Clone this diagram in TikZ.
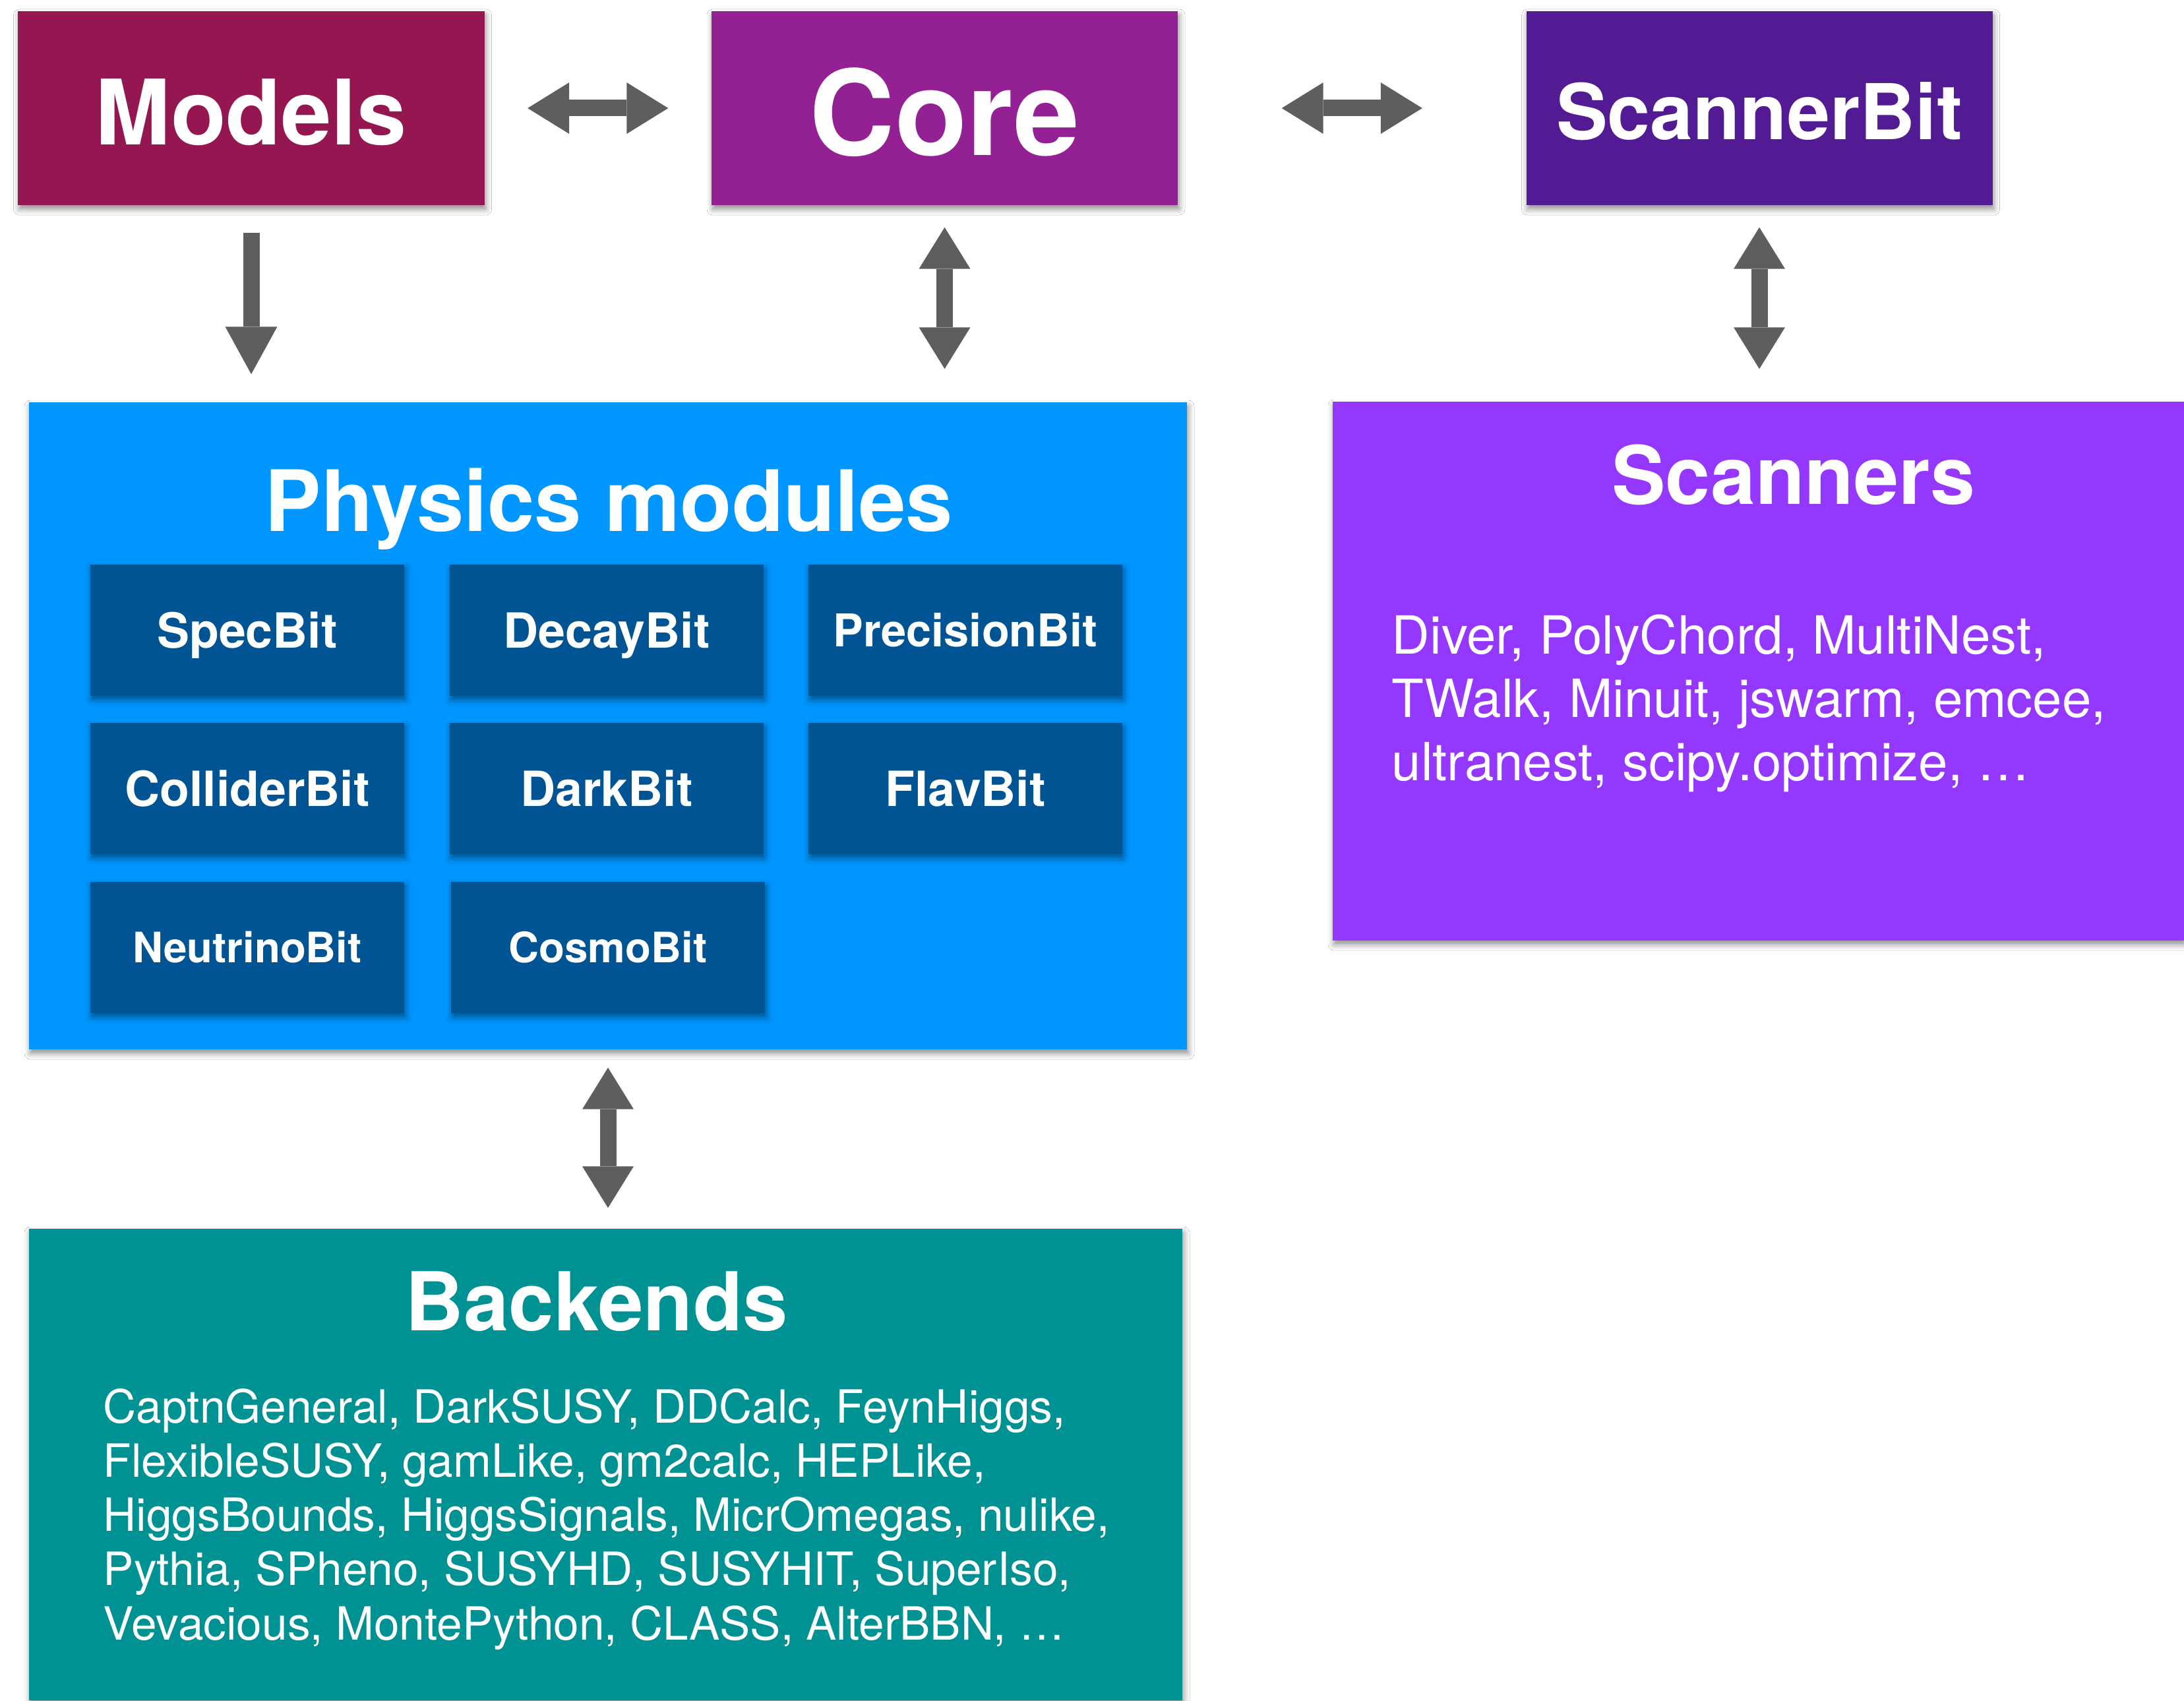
\documentclass[tikz,border=0pt]{standalone}
\usepackage{fontspec}
\setmainfont{TeX Gyre Heros}
\usetikzlibrary{arrows.meta,shadows.blur}
\definecolor{cMaroon}{HTML}{941751}
\definecolor{cPlum}{HTML}{942193}
\definecolor{cEggplant}{HTML}{531B93}
\definecolor{cAqua}{HTML}{0096FF}
\definecolor{cOcean}{HTML}{005493}
\definecolor{cGrape}{HTML}{9437FF}
\definecolor{cTeal}{HTML}{009193}
\definecolor{cIron}{HTML}{5E5E5E}
\tikzset{
  boxshadow/.style={blur shadow={shadow xshift=0.02cm, shadow yshift=-0.06cm, shadow blur radius=0.09cm, shadow opacity=45}},
  topbox/.style={rectangle, inner sep=0pt, minimum width=7.07cm, minimum height=2.94cm, text=white, text depth=0pt, boxshadow},
  bigbox/.style={rectangle, inner sep=0pt, boxshadow},
  modbox/.style={rectangle, fill=cOcean, inner sep=0pt, minimum width=4.76cm, minimum height=1.99cm, text=white, text depth=0pt, text height=0.53cm, font=\fontsize{20.9}{25}\selectfont\bfseries, boxshadow},
  smallmod/.style={text height=0.46cm, font=\fontsize{18.1}{22}\selectfont\bfseries},
  titletext/.style={text=white, inner sep=0pt, anchor=base, font=\bfseries},
  bodytext/.style={text=white, inner sep=0pt, anchor=base west, align=left},
  twoway/.style={draw=cIron, line width=0.25cm, {Triangle[length=0.63cm,width=0.78cm,line width=0pt]}-{Triangle[length=0.63cm,width=0.78cm,line width=0pt]}},
  oneway/.style={draw=cIron, line width=0.25cm, -{Triangle[length=0.72cm,width=0.79cm,line width=0pt]}}
}
\begin{document}
\begin{tikzpicture}[x=1cm, y=-1cm]
\useasboundingbox[fill=white] (0,0) rectangle (33.12,25.78);
% top row
\node[topbox, fill=cMaroon, text height=1.11cm, font=\fontsize{39}{46}\selectfont\bfseries] (Models) at (3.81,1.64) {Models};
\node[topbox, fill=cPlum, text height=1.42cm, font=\fontsize{51}{60}\selectfont\bfseries] (Core) at (14.325,1.64) {Core};
\node[topbox, fill=cEggplant, text height=0.96cm, font=\fontsize{33.2}{40}\selectfont\bfseries] (ScannerBit) at (26.68,1.64) {ScannerBit};
% physics modules
\node[bigbox, fill=cAqua, minimum width=17.56cm, minimum height=9.81cm] (Physics) at (9.22,11.005) {};
\node[titletext, font=\fontsize{36.5}{43}\selectfont\bfseries] (PhysTitle) at (9.235,8.05) {Physics modules};
\node[modbox] (SpecBit) at (3.75,9.555) {SpecBit};
\node[modbox] (DecayBit) at (9.20,9.555) {DecayBit};
\node[modbox, text height=0.49cm, font=\fontsize{19.5}{23}\selectfont\bfseries] (PrecisionBit) at (14.64,9.555) {PrecisionBit};
\node[modbox] (ColliderBit) at (3.75,11.955) {ColliderBit};
\node[modbox] (DarkBit) at (9.20,11.955) {DarkBit};
\node[modbox] (FlavBit) at (14.64,11.955) {FlavBit};
\node[modbox, smallmod] (NeutrinoBit) at (3.75,14.365) {NeutrinoBit};
\node[modbox, smallmod] (CosmoBit) at (9.22,14.365) {CosmoBit};
% scanners
\node[bigbox, fill=cGrape, minimum width=12.91cm, minimum height=8.17cm] (Scanners) at (26.665,10.175) {};
\node[titletext, font=\fontsize{34.8}{42}\selectfont\bfseries] (ScanTitle) at (27.20,7.64) {Scanners};
\node[bodytext, font=\fontsize{22.7}{27.3}\selectfont] (ScanList) at (21.10,11.83) {Diver, PolyChord, MultiNest,\\TWalk, Minuit, jswarm, emcee,\\ultranest, scipy.optimize, …};
% backends
\node[bigbox, fill=cTeal, minimum width=17.49cm, minimum height=7.15cm] (Backends) at (9.185,22.205) {};
\node[titletext, font=\fontsize{35}{41}\selectfont\bfseries] (BackTitle) at (9.045,20.17) {Backends};
\node[bodytext, font=\fontsize{19.75}{23.4}\selectfont] (BackList) at (1.56,24.86) {CaptnGeneral, DarkSUSY, DDCalc, FeynHiggs,\\FlexibleSUSY, gamLike, gm2calc, HEPLike,\\HiggsBounds, HiggsSignals, MicrOmegas, nulike,\\Pythia, SPheno, SUSYHD, SUSYHIT, SuperIso,\\Vevacious, MontePython, CLASS, AlterBBN, …};
% connectors
\draw[twoway, shorten <=0.65cm, shorten >=0.65cm] (Models.east) -- (Core.west);
\draw[twoway, shorten <=1.57cm, shorten >=1.57cm] (Core.east) -- (ScannerBit.west);
\draw[oneway, shorten <=0.41cm, shorten >=0.42cm] (Models.south) -- (Models.south |- Physics.north);
\draw[twoway, shorten <=0.33cm, shorten >=0.50cm] (Core.south) -- (Core.south |- Physics.north);
\draw[twoway, shorten <=0.33cm, shorten >=0.49cm] (ScannerBit.south) -- (ScannerBit.south |- Scanners.north);
\draw[twoway, shorten <=0.27cm, shorten >=0.31cm] (Physics.south) -- (Physics.south |- Backends.north);
\end{tikzpicture}
\end{document}
